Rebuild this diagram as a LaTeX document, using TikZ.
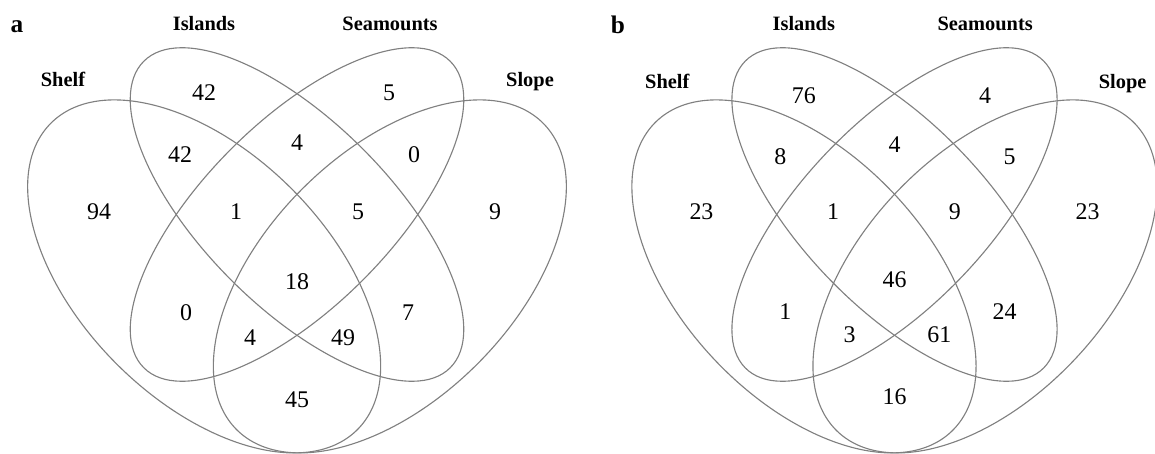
\documentclass[tikz,border=0pt]{standalone}
\usepackage{fontspec}
\setmainfont{Liberation Serif}
\usepackage{tikz}

\definecolor{venngray}{RGB}{128,128,128}

\begin{document}
\begin{tikzpicture}[x=0.025cm,y=-0.025cm]
	\tikzstyle{set} = [draw=venngray,line width=0.8pt]
	\tikzstyle{count} = [anchor=base,font=\fontsize{17}{20}\selectfont]
	\tikzstyle{setname} = [anchor=base,font=\fontsize{14.5}{17}\selectfont\bfseries]
	\tikzstyle{panel} = [anchor=base,font=\fontsize{18}{21}\selectfont\bfseries]

	\useasboundingbox (0,0) rectangle (1155,453);

	\node[panel] (pa) at (17,33) {a};
	\node[panel] (pb) at (618,34) {b};

	% panel a
	\begin{scope}[shift={(297,0)}]
		\foreach \cx/\cy/\rb/\ang in {-92.85/276.4/123.8/-45, 0/214.5/92.9/-45, 0/214.5/92.9/45, 92.85/276.4/123.8/45}
			\draw[set, rotate around={\ang:(\cx,\cy)}] (\cx,\cy) ellipse (216.7 and \rb);

		\node[setname] (aShelf) at (-234,87) {Shelf};
		\node[setname] (aIslands) at (-93,31) {Islands};
		\node[setname] (aSeamounts) at (93,31) {Seamounts};
		\node[setname] (aSlope) at (233,87) {Slope};

		\node[count] (a1) at (-93,100.5) {42};
		\node[count] (a2) at (92,100.5) {5};
		\node[count] (a3) at (-117,162.5) {42};
		\node[count] (a4) at (0,150.5) {4};
		\node[count] (a5) at (117,162.5) {0};
		\node[count] (a6) at (-198,219.5) {94};
		\node[count] (a7) at (-61,219.5) {1};
		\node[count] (a8) at (61,219.5) {5};
		\node[count] (a9) at (198,219.5) {9};
		\node[count] (a10) at (0,289.5) {18};
		\node[count] (a11) at (-111,320.5) {0};
		\node[count] (a12) at (111,320.5) {7};
		\node[count] (a13) at (-47,345.5) {4};
		\node[count] (a14) at (46,345.5) {49};
		\node[count] (a15) at (0,407.5) {45};
	\end{scope}

	% panel b
	\begin{scope}[shift={(894.5,0)},xscale=0.975]
		\foreach \cx/\cy/\rb/\ang in {-92.85/276.4/123.8/-45, 0/214.5/92.9/-45, 0/214.5/92.9/45, 92.85/276.4/123.8/45}
			\draw[set, rotate around={\ang:(\cx,\cy)}] (\cx,\cy) ellipse (216.7 and \rb);

		\node[setname] (bShelf) at (-233,88) {Shelf};
		\node[setname] (bIslands) at (-93,31) {Islands};
		\node[setname] (bSeamounts) at (93,31) {Seamounts};
		\node[setname] (bSlope) at (234,88) {Slope};

		\node[count] (b1) at (-93,103.5) {76};
		\node[count] (b2) at (93,103.5) {4};
		\node[count] (b3) at (-117,164.5) {8};
		\node[count] (b4) at (0,152.5) {4};
		\node[count] (b5) at (118,164.5) {5};
		\node[count] (b6) at (-198,219.5) {23};
		\node[count] (b7) at (-63,219.5) {1};
		\node[count] (b8) at (62,219.5) {9};
		\node[count] (b9) at (198,219.5) {23};
		\node[count] (b10) at (0,287.5) {46};
		\node[count] (b11) at (-112,319.5) {1};
		\node[count] (b12) at (113,319.5) {24};
		\node[count] (b13) at (-46,342.5) {3};
		\node[count] (b14) at (46,342.5) {61};
		\node[count] (b15) at (0,404.5) {16};
	\end{scope}
\end{tikzpicture}
\end{document}
